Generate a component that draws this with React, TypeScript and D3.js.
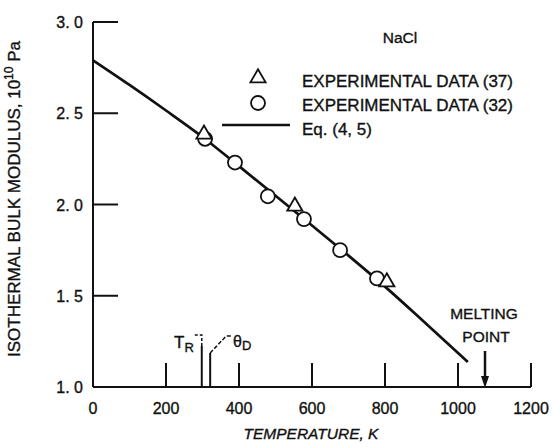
import * as d3 from "d3";
import { useEffect, useRef } from "react";

// Eq. (4.5) curve
const eqTemps = [0, 100, 200, 300, 400, 500, 600, 700, 800, 900, 1027];
const eqModulus = [2.79, 2.655, 2.515, 2.37, 2.21, 2.048, 1.885, 1.72, 1.55, 1.37, 1.137];

// experimental data (37) - triangles
const data37Temps = [304, 553, 805];
const data37Modulus = [2.385, 1.99, 1.575];

// experimental data (32) - circles
const data32Temps = [307, 389, 479, 578, 677, 778];
const data32Modulus = [2.36, 2.23, 2.045, 1.92, 1.75, 1.595];

const xTicks = [0, 200, 400, 600, 800, 1000, 1200];
const yTicks = [1.0, 1.5, 2.0, 2.5, 3.0];

const roomTemp = 298; // T_R
const debyeTemp = 321; // theta_D
const meltingPoint = 1074;

const font = "'Liberation Sans', Arial, sans-serif";

function Chart() {
    const ref = useRef<SVGSVGElement>(null);

    useEffect(() => {
        const svg = d3.select(ref.current);
        svg.selectAll("*").remove();

        const x = d3.scaleLinear().domain([0, 1200]).range([93, 531]);
        const y = d3.scaleLinear().domain([1, 3]).range([387, 22]);

        const g = svg.append("g")
            .attr("font-family", font)
            .attr("fill", "#111");

        // text a bit heavier, like the scanned lettering
        const txt = g.append("g")
            .attr("stroke", "#111")
            .attr("stroke-width", 0.35);

        // axes
        g.append("line")
            .attr("x1", x(0)).attr("x2", x(0))
            .attr("y1", y(3)).attr("y2", y(1))
            .attr("stroke", "#111").attr("stroke-width", 2);
        g.append("line")
            .attr("x1", x(0)).attr("x2", x(1200))
            .attr("y1", y(1)).attr("y2", y(1))
            .attr("stroke", "#111").attr("stroke-width", 2);

        // y ticks point inward
        g.selectAll(".ytick")
            .data(yTicks.filter(d => d > 1))
            .enter()
            .append("line")
            .attr("x1", x(0)).attr("x2", x(0) + 25)
            .attr("y1", d => y(d)).attr("y2", d => y(d))
            .attr("stroke", "#111").attr("stroke-width", 2);

        txt.selectAll(".ylab")
            .data(yTicks)
            .enter()
            .append("text")
            .attr("x", x(0) - 10)
            .attr("y", d => y(d) + 6)
            .attr("text-anchor", "end")
            .attr("font-size", 16)
            .text(d => d3.format(".1f")(d).replace(".", ". "));

        // x ticks
        g.selectAll(".xtick")
            .data(xTicks.filter(d => d > 0))
            .enter()
            .append("line")
            .attr("x1", d => x(d)).attr("x2", d => x(d))
            .attr("y1", y(1)).attr("y2", y(1) - 24)
            .attr("stroke", "#111").attr("stroke-width", 2);

        txt.selectAll(".xlab")
            .data(xTicks)
            .enter()
            .append("text")
            .attr("x", d => x(d))
            .attr("y", 414)
            .attr("text-anchor", "middle")
            .attr("font-size", 16)
            .text(d => String(d));

        // axis titles
        txt.append("text")
            .attr("x", 311).attr("y", 439)
            .attr("text-anchor", "middle")
            .attr("font-size", 15.5)
            .attr("font-style", "italic")
            .text("TEMPERATURE, K");

        const yTitle = txt.append("text")
            .attr("transform", "translate(20,199) rotate(-90)")
            .attr("text-anchor", "middle")
            .attr("font-size", 17);
        yTitle.append("tspan").text("ISOTHERMAL BULK MODULUS, 10");
        yTitle.append("tspan").attr("dy", -7).attr("font-size", 12).text("10");
        yTitle.append("tspan").attr("dy", 7).text(" Pa");

        // Eq. (4.5)
        const line = d3.line<number>()
            .x((_, i) => x(eqTemps[i]))
            .y(d => y(d))
            .curve(d3.curveMonotoneX);
        g.append("path")
            .attr("d", line(eqModulus))
            .attr("fill", "none")
            .attr("stroke", "#111")
            .attr("stroke-width", 2.7);

        // data points
        g.selectAll(".c32")
            .data(data32Modulus)
            .enter()
            .append("circle")
            .attr("cx", (_, i) => x(data32Temps[i]))
            .attr("cy", d => y(d))
            .attr("r", 7)
            .attr("fill", "white")
            .attr("stroke", "#111")
            .attr("stroke-width", 1.8);

        const tri = d3.symbol(d3.symbolTriangle, 100);
        g.selectAll(".t37")
            .data(data37Modulus)
            .enter()
            .append("path")
            .attr("d", tri)
            .attr("transform", (d, i) => `translate(${x(data37Temps[i])},${y(d)})`)
            .attr("fill", "white")
            .attr("stroke", "#111")
            .attr("stroke-width", 1.8);

        // legend
        txt.append("text")
            .attr("x", 400).attr("y", 43)
            .attr("text-anchor", "middle")
            .attr("font-size", 15.5)
            .text("NaCl");

        g.append("path")
            .attr("d", tri)
            .attr("transform", "translate(258,78)")
            .attr("fill", "white").attr("stroke", "#111").attr("stroke-width", 1.8);
        txt.append("text").attr("x", 302).attr("y", 87).attr("font-size", 17)
            .text("EXPERIMENTAL DATA (37)");

        g.append("circle")
            .attr("cx", 258).attr("cy", 103).attr("r", 7)
            .attr("fill", "white").attr("stroke", "#111").attr("stroke-width", 1.8);
        txt.append("text").attr("x", 302).attr("y", 111).attr("font-size", 17)
            .text("EXPERIMENTAL DATA (32)");

        g.append("line")
            .attr("x1", 222).attr("x2", 290)
            .attr("y1", 125).attr("y2", 125)
            .attr("stroke", "#111").attr("stroke-width", 2.7);
        txt.append("text").attr("x", 302).attr("y", 135).attr("font-size", 17)
            .text("Eq. (4, 5)");

        // T_R and theta_D markers
        const xr = x(roomTemp);
        const xd = x(debyeTemp);
        g.append("line")
            .attr("x1", xr).attr("x2", xr)
            .attr("y1", y(1)).attr("y2", 346)
            .attr("stroke", "#111").attr("stroke-width", 2);
        g.append("path")
            .attr("d", `M${xr - 7},335 H${xr} V346`)
            .attr("fill", "none").attr("stroke", "#111")
            .attr("stroke-width", 1.5).attr("stroke-dasharray", "3,2");
        const tr = txt.append("text").attr("x", 174).attr("y", 348).attr("font-size", 17);
        tr.append("tspan").text("T");
        tr.append("tspan").attr("dy", 4).attr("font-size", 13).text("R");

        g.append("line")
            .attr("x1", xd).attr("x2", xd)
            .attr("y1", y(1)).attr("y2", 353)
            .attr("stroke", "#111").attr("stroke-width", 2);
        g.append("path")
            .attr("d", `M${xd},353 L${xd + 16},336 H${xd + 21}`)
            .attr("fill", "none").attr("stroke", "#111")
            .attr("stroke-width", 1.5).attr("stroke-dasharray", "4,2");
        const td = txt.append("text").attr("x", 233).attr("y", 347).attr("font-size", 16);
        td.append("tspan").text("θ");
        td.append("tspan").attr("dy", 3).attr("font-size", 13).text("D");

        // melting point arrow
        const xm = x(meltingPoint);
        g.append("line")
            .attr("x1", xm).attr("x2", xm)
            .attr("y1", 351).attr("y2", 378)
            .attr("stroke", "#111").attr("stroke-width", 2.5);
        g.append("path")
            .attr("d", `M${xm - 4},376 L${xm + 4},376 L${xm},388 Z`)
            .attr("fill", "#111");
        txt.append("text").attr("x", xm - 1).attr("y", 319)
            .attr("text-anchor", "middle").attr("font-size", 15.5)
            .text("MELTING");
        txt.append("text").attr("x", xm + 1).attr("y", 342)
            .attr("text-anchor", "middle").attr("font-size", 15.5)
            .text("POINT");
    }, []);

    return <svg width={554} height={448} ref={ref}
        style={{ position: "absolute", left: 0, top: 0, background: "white" }} />;
}

export default function App() {
    return <Chart />;
}
